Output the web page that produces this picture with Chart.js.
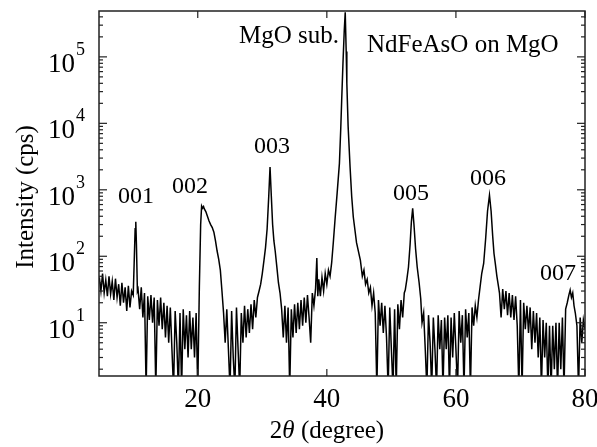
<!DOCTYPE html>
<html>
<head>
<meta charset="utf-8">
<script src="https://cdn.jsdelivr.net/npm/chart.js@4.4.0/dist/chart.umd.min.js"></script>
<style>
  html, body { margin: 0; padding: 0; background: #fff; }
  canvas { display: block; }
</style>
</head>
<body>
<canvas id="xrdChart" width="597" height="447"></canvas>
<script>
// ============================================
// Data
// ============================================
const twoTheta = [
    4.75, 5.0, 5.25, 5.5, 5.75, 6.0, 6.25, 6.5, 6.75, 7.0, 7.25, 7.5, 7.75, 8.0, 8.25, 8.5, 8.75, 9.0, 9.25, 9.5, 9.75, 10.0,
    10.15, 10.3, 10.4, 10.5, 10.65,
    10.75, 11.0, 11.25, 11.5, 11.75, 12.0, 12.25, 12.5, 12.75, 13.0, 13.25, 13.5, 13.75, 14.0, 14.25, 14.5, 14.75, 15.0, 15.25, 15.5, 15.75, 16.0, 16.25, 16.5, 16.75, 17.0, 17.25, 17.5, 17.75, 18.0, 18.25, 18.5, 18.75, 19.0, 19.25, 19.5, 19.75, 20.0,
    20.25, 20.45, 20.6, 20.75, 20.9, 21.0, 21.25, 21.5, 21.75, 22.0, 22.25, 22.5, 22.75, 23.0, 23.25, 23.5, 23.75, 24.0,
    24.25, 24.5, 24.75, 25.0, 25.25, 25.5, 25.75, 26.0, 26.25, 26.5, 26.75, 27.0, 27.25, 27.5, 27.75, 28.0, 28.25, 28.5, 28.75, 29.0, 29.25,
    29.5, 29.75, 30.0, 30.25, 30.5, 30.75, 31.0, 31.2, 31.4, 31.6, 31.8, 32.0, 32.25, 32.5, 32.75, 33.0,
    33.25, 33.5, 33.75, 34.0, 34.25, 34.5, 34.75, 35.0, 35.25, 35.5, 35.75, 36.0, 36.25, 36.5, 36.75, 37.0, 37.25, 37.5, 37.75, 38.0, 38.25, 38.45, 38.6, 38.75, 39.0, 39.25, 39.5, 39.75, 40.0, 40.25, 40.5,
    40.75, 41.0, 41.3, 41.6, 41.95, 42.15, 42.3, 42.5, 42.7, 42.85, 43.0, 43.1, 43.3, 43.6, 43.85, 44.1, 44.6, 45.2, 45.5, 45.75, 46.0, 46.25, 46.5,
    46.75, 47.0, 47.25, 47.5, 47.75, 48.0, 48.25, 48.5, 48.75, 49.0, 49.25, 49.5, 49.75, 50.0, 50.25, 50.5, 50.75, 51.0, 51.25, 51.5, 51.75, 52.0,
    52.15, 52.4, 52.65, 52.9, 53.1, 53.3, 53.5, 53.75, 54.0, 54.3, 54.55,
    54.75, 55.0, 55.25, 55.5, 55.75, 56.0, 56.25, 56.5, 56.75, 57.0, 57.25, 57.5, 57.75, 58.0, 58.25, 58.5, 58.75, 59.0, 59.25, 59.5, 59.75, 60.0, 60.25, 60.5, 60.75, 61.0, 61.25, 61.5, 61.75, 62.0, 62.25, 62.5, 62.75, 63.0, 63.25,
    63.5, 63.75, 64.0, 64.3, 64.6, 64.9, 65.2, 65.45, 65.7, 65.9, 66.1, 66.35, 66.6,
    66.75, 67.0, 67.25, 67.5, 67.75, 68.0, 68.25, 68.5, 68.75, 69.0, 69.25, 69.5, 69.75, 70.0, 70.25, 70.5, 70.75, 71.0, 71.25, 71.5, 71.75, 72.0, 72.25, 72.5, 72.75, 73.0, 73.25, 73.5, 73.75, 74.0, 74.25, 74.5, 74.75, 75.0, 75.25, 75.5, 75.75, 76.0, 76.25, 76.5, 76.75, 77.0,
    77.25, 77.5, 77.7, 77.9, 78.1, 78.3, 78.5, 78.75, 79.0, 79.25, 79.5, 79.75, 80.0
];

const intensity = [
    48, 30, 55, 28, 44, 25, 50, 27, 42, 22, 46, 24, 38, 18, 40, 20, 34, 15, 36, 17, 30, 26,
    80, 260, 330, 150, 30,
    32, 16, 34, 12, 28, 1, 25, 11, 26, 10, 24, 1, 22, 9, 24, 8, 20, 6, 18, 5, 17, 4, 1, 15, 5, 1, 14, 1, 16, 4, 13, 3, 15, 4, 12, 3, 14, 1,
    35, 300, 570, 530, 560, 520, 470, 400, 340, 300, 270, 230, 170, 120, 90, 62, 30, 14,
    5, 16, 4, 1, 15, 3, 1, 17, 4, 1, 14, 5, 18, 6, 16, 7, 19, 8, 22, 12, 24,
    30, 38, 55, 85, 135, 260, 800, 2200, 800, 300, 170, 120, 70, 40, 28, 16,
    6, 18, 5, 17, 1, 16, 6, 19, 7, 20, 8, 22, 9, 24, 10, 26, 12, 5, 28, 18, 32, 94, 25, 45, 25, 48, 30, 55, 38, 62, 50,
    80, 160, 390, 900, 2500, 8000, 22000, 80000, 250000, 470000, 120000, 40000, 9000, 2200, 800, 390, 160, 87, 50, 62, 38, 45, 28,
    34, 18, 28, 14, 1, 22, 9, 20, 7, 18, 6, 1, 17, 4, 1, 16, 1, 19, 8, 22, 12, 28,
    31, 45, 69, 150, 330, 525, 300, 130, 69, 40, 23,
    10, 14, 4, 1, 13, 5, 1, 12, 4, 1, 13, 4, 11, 1, 12, 4, 13, 1, 12, 3, 14, 4, 1, 15, 5, 13, 1, 16, 6, 14, 1, 17, 9, 18, 12,
    22, 35, 55, 78, 180, 480, 830, 480, 200, 110, 78, 50, 35,
    28, 12, 32, 16, 30, 13, 28, 12, 26, 11, 25, 9, 1, 22, 1, 20, 8, 18, 7, 17, 4, 15, 5, 14, 3, 12, 1, 11, 3, 10, 1, 9, 1, 9, 2, 10, 1, 10, 2, 12, 1, 16,
    20, 26, 31, 24, 28, 18, 14, 9, 1, 12, 5, 11, 8
];

const xTicks = [20, 40, 60, 80];
const yDecades = [1, 2, 3, 4, 5];

const peakLabels = [
    { text: '001', x: 136, y: 203 },
    { text: '002', x: 190, y: 193 },
    { text: '003', x: 272, y: 153 },
    { text: '005', x: 411, y: 200 },
    { text: '006', x: 488, y: 185 },
    { text: '007', x: 558, y: 280 }
];

const SERIF = '"Liberation Serif", "DejaVu Serif", serif';

// ============================================
// Frame, inward ticks and text
// ============================================
const frameAndText = {
    id: 'frameAndText',
    afterDraw(chart) {
        const ctx = chart.ctx;
        const a = chart.chartArea;
        const xs = chart.scales.x;
        const ys = chart.scales.y;

        function seg(x1, y1, x2, y2) {
            ctx.beginPath();
            ctx.moveTo(x1, y1);
            ctx.lineTo(x2, y2);
            ctx.stroke();
        }

        ctx.save();
        ctx.strokeStyle = '#222';
        ctx.lineWidth = 1.5;
        ctx.strokeRect(a.left, a.top, a.right - a.left, a.bottom - a.top);

        // x ticks (top and bottom)
        ctx.lineWidth = 1.2;
        xTicks.forEach(v => {
            const px = xs.getPixelForValue(v);
            seg(px, a.bottom, px, a.bottom - 7);
            seg(px, a.top, px, a.top + 7);
        });

        // y ticks, major and minor (left and right)
        for (let k = 0; k <= 5; k++) {
            for (let m = 1; m <= 9; m++) {
                const v = m * Math.pow(10, k);
                if (v < ys.min || v > ys.max) continue;
                const py = ys.getPixelForValue(v);
                const len = m === 1 ? 8 : 4;
                seg(a.left, py, a.left + len, py);
                seg(a.right, py, a.right - len, py);
            }
        }

        ctx.fillStyle = '#000';
        ctx.textBaseline = 'alphabetic';

        // x tick labels
        ctx.font = '27px ' + SERIF;
        ctx.textAlign = 'center';
        xTicks.forEach(v => {
            ctx.fillText(String(v), xs.getPixelForValue(v), a.bottom + 31);
        });

        // y tick labels 10^n
        yDecades.forEach(n => {
            const py = ys.getPixelForValue(Math.pow(10, n));
            ctx.font = '27px ' + SERIF;
            ctx.textAlign = 'right';
            ctx.fillText('10', a.left - 24, py + 15);
            ctx.font = '18px ' + SERIF;
            ctx.textAlign = 'left';
            ctx.fillText(String(n), a.left - 23, py - 2);
        });

        // y axis title
        ctx.save();
        ctx.translate(26, 197);
        ctx.rotate(-Math.PI / 2);
        ctx.font = '25px ' + SERIF;
        ctx.textAlign = 'center';
        ctx.textBaseline = 'middle';
        ctx.fillText('Intensity (cps)', 0, 0);
        ctx.restore();

        // x axis title: 2θ (degree), θ in italics
        const parts = [
            { t: '2', f: '25px ' + SERIF },
            { t: 'θ', f: 'italic 25px ' + SERIF },
            { t: ' (degree)', f: '25px ' + SERIF }
        ];
        let total = 0;
        parts.forEach(p => { ctx.font = p.f; p.w = ctx.measureText(p.t).width; total += p.w; });
        let cx = 327 - total / 2;
        ctx.textAlign = 'left';
        parts.forEach(p => { ctx.font = p.f; ctx.fillText(p.t, cx, 438); cx += p.w; });

        // peak labels
        ctx.font = '24px ' + SERIF;
        ctx.textAlign = 'center';
        peakLabels.forEach(p => ctx.fillText(p.text, p.x, p.y));

        // annotations
        ctx.font = '25px ' + SERIF;
        ctx.textAlign = 'left';
        ctx.fillText('MgO sub.', 239, 43);
        ctx.fillText('NdFeAsO on MgO', 367, 52);

        ctx.restore();
    }
};

// ============================================
// Chart
// ============================================
new Chart(document.getElementById('xrdChart').getContext('2d'), {
    type: 'line',
    data: {
        datasets: [{
            data: twoTheta.map((t, i) => ({ x: t, y: intensity[i] })),
            borderColor: '#000',
            borderWidth: 1.5,
            pointRadius: 0,
            tension: 0,
            fill: false
        }]
    },
    options: {
        responsive: false,
        animation: false,
        devicePixelRatio: 1,
        layout: { padding: { left: 99, right: 12, top: 11, bottom: 71 } },
        plugins: {
            legend: { display: false },
            tooltip: { enabled: false }
        },
        scales: {
            x: { type: 'linear', min: 4.7, max: 80, display: false },
            y: { type: 'logarithmic', min: 1.58, max: 4.9e5, display: false }
        }
    },
    plugins: [frameAndText]
});
</script>
</body>
</html>
